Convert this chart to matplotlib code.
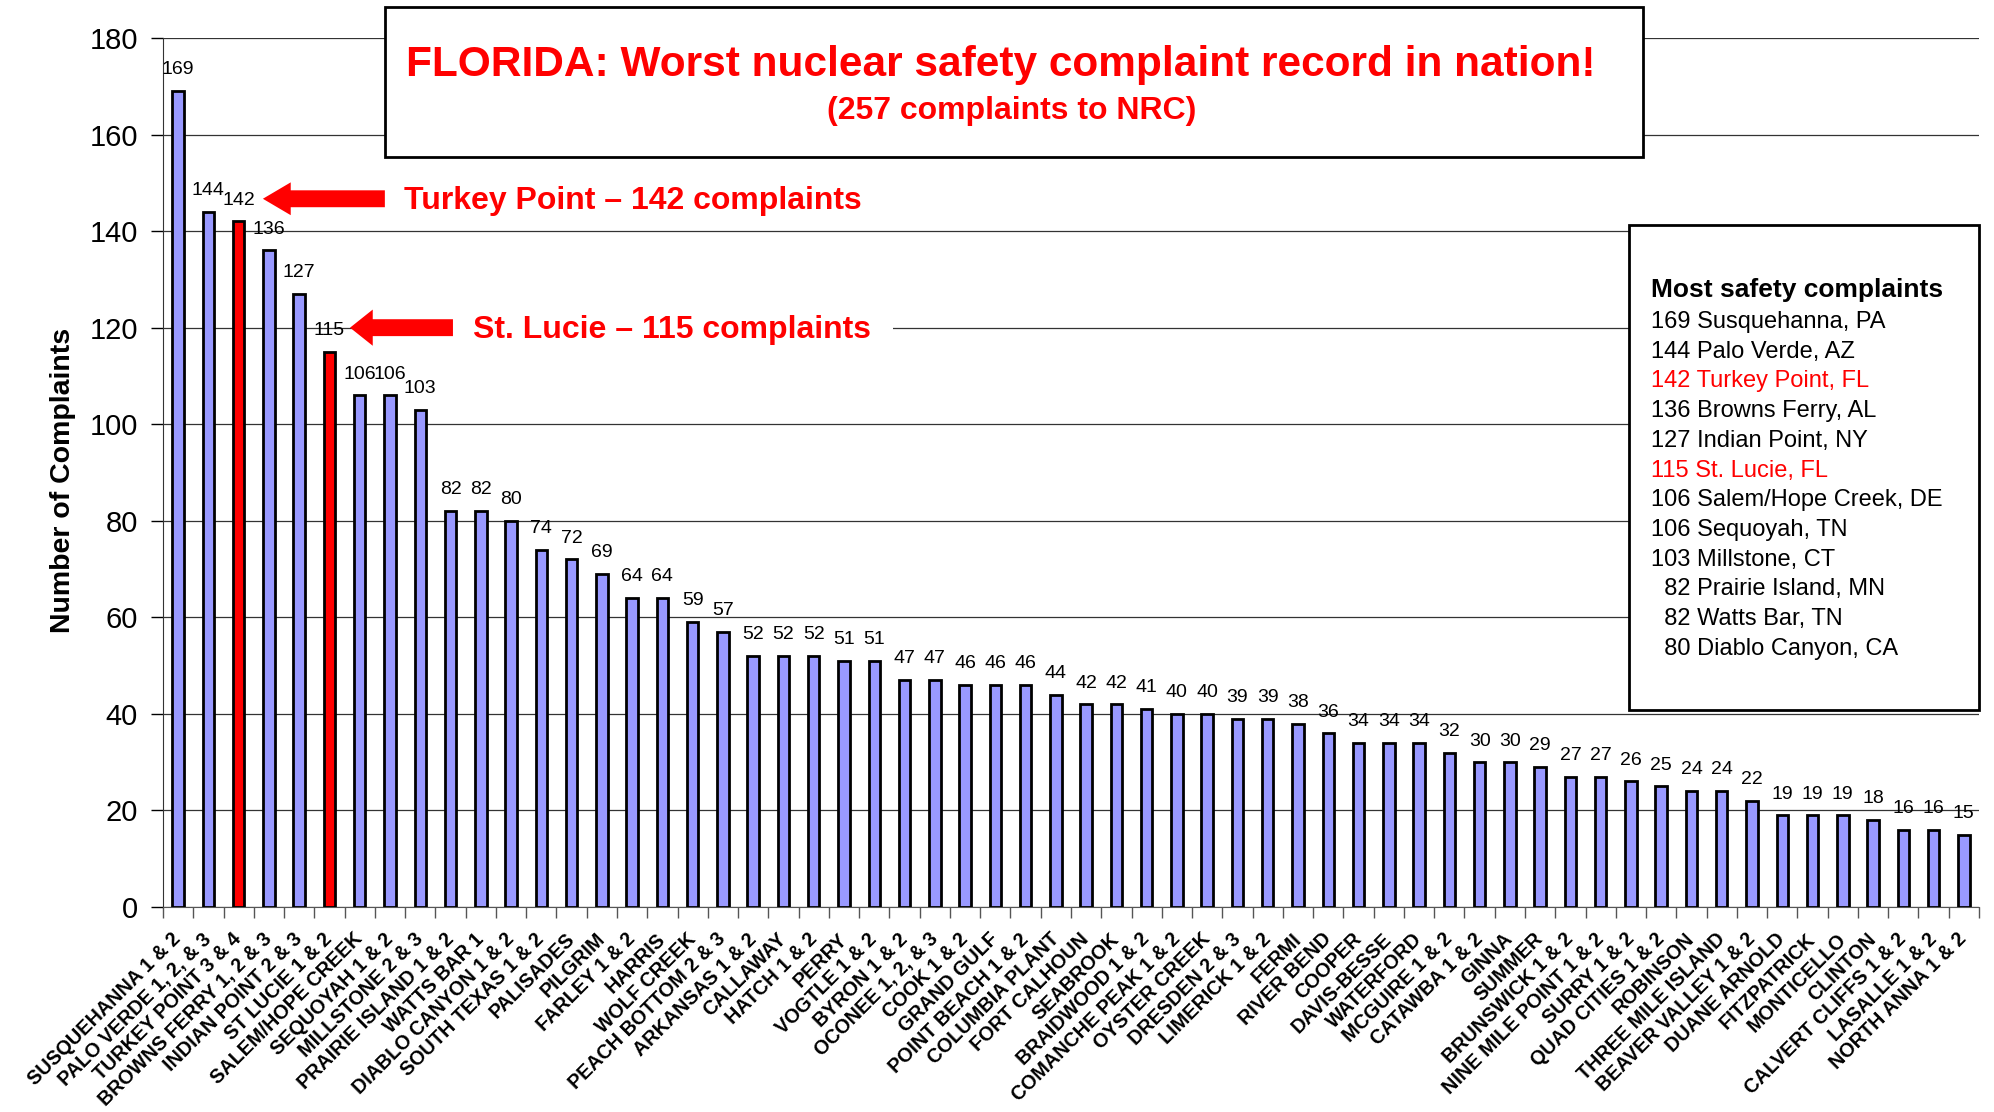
import matplotlib
matplotlib.use("Agg")
import matplotlib.pyplot as plt
import matplotlib.patches as mpatches
import numpy as np

plt.rcParams['font.family'] = ['Liberation Sans', 'DejaVu Sans']

# plant names and complaint counts, in chart order
plants = [
    "SUSQUEHANNA 1 & 2", "PALO VERDE 1, 2, & 3", "TURKEY POINT 3 & 4",
    "BROWNS FERRY 1, 2 & 3", "INDIAN POINT 2 & 3", "ST LUCIE 1 & 2",
    "SALEM/HOPE CREEK", "SEQUOYAH 1 & 2", "MILLSTONE 2 & 3",
    "PRAIRIE ISLAND 1 & 2", "WATTS BAR 1", "DIABLO CANYON 1 & 2",
    "SOUTH TEXAS 1 & 2", "PALISADES", "PILGRIM", "FARLEY 1 & 2", "HARRIS",
    "WOLF CREEK", "PEACH BOTTOM 2 & 3", "ARKANSAS 1 & 2", "CALLAWAY",
    "HATCH 1 & 2", "PERRY", "VOGTLE 1 & 2", "BYRON 1 & 2", "OCONEE 1, 2, & 3",
    "COOK 1 & 2", "GRAND GULF", "POINT BEACH 1 & 2", "COLUMBIA PLANT",
    "FORT CALHOUN", "SEABROOK", "BRAIDWOOD 1 & 2", "COMANCHE PEAK 1 & 2",
    "OYSTER CREEK", "DRESDEN 2 & 3", "LIMERICK 1 & 2", "FERMI", "RIVER BEND",
    "COOPER", "DAVIS-BESSE", "WATERFORD", "MCGUIRE 1 & 2", "CATAWBA 1 & 2",
    "GINNA", "SUMMER", "BRUNSWICK 1 & 2", "NINE MILE POINT 1 & 2",
    "SURRY 1 & 2", "QUAD CITIES 1 & 2", "ROBINSON", "THREE MILE ISLAND",
    "BEAVER VALLEY 1 & 2", "DUANE ARNOLD", "FITZPATRICK", "MONTICELLO",
    "CLINTON", "CALVERT CLIFFS 1 & 2", "LASALLE 1 & 2", "NORTH ANNA 1 & 2",
]
complaints = [
    169, 144, 142, 136, 127, 115, 106, 106, 103, 82,
    82, 80, 74, 72, 69, 64, 64, 59, 57, 52,
    52, 52, 51, 51, 47, 47, 46, 46, 46, 44,
    42, 42, 41, 40, 40, 39, 39, 38, 36, 34,
    34, 34, 32, 30, 30, 29, 27, 27, 26, 25,
    24, 24, 22, 19, 19, 19, 18, 16, 16, 15,
]
florida = ["TURKEY POINT 3 & 4", "ST LUCIE 1 & 2"]

top_list = [
    ("169 Susquehanna, PA", "black"),
    ("144 Palo Verde, AZ", "black"),
    ("142 Turkey Point, FL", "red"),
    ("136 Browns Ferry, AL", "black"),
    ("127 Indian Point, NY", "black"),
    ("115 St. Lucie, FL", "red"),
    ("106 Salem/Hope Creek, DE", "black"),
    ("106 Sequoyah, TN", "black"),
    ("103 Millstone, CT", "black"),
    ("  82 Prairie Island, MN", "black"),
    ("  82 Watts Bar, TN", "black"),
    ("  80 Diablo Canyon, CA", "black"),
]

W, H = 1994, 1112
fig = plt.figure(figsize=(W / 100, H / 100), dpi=100)
ax = fig.add_axes([163 / W, 1 - 907 / H, (1979 - 163) / W, (907 - 38) / H])

x = np.arange(len(plants))
colors = ['#FF0000' if p in florida else '#9999FF' for p in plants]
ax.bar(x, complaints, width=0.38, color=colors, edgecolor='black',
       linewidth=2, zorder=3)

for i, v in enumerate(complaints):
    ax.annotate(str(v), (i, v), xytext=(0, 12), textcoords='offset points',
                ha='center', va='baseline', fontsize=14, zorder=4)

ax.set_xlim(-0.5, len(plants) - 0.5)
ax.set_ylim(0, 180)
ax.set_yticks(np.arange(0, 181, 20))
ax.yaxis.grid(True, color='#333333', linewidth=0.9)
ax.set_axisbelow(True)
ax.tick_params(axis='y', labelsize=21, length=9, width=1, pad=9)

ax.set_xticks(x)
ax.set_xticks(np.arange(-0.5, len(plants), 1), minor=True)
ax.set_xticklabels(plants, rotation=45, ha='right', va='center',
                   rotation_mode='anchor', fontsize=14.2, fontweight='bold')
ax.tick_params(axis='x', which='major', length=0, pad=21)
ax.tick_params(axis='x', which='minor', length=8, width=1, color='#555555')

for s in ['top', 'right']:
    ax.spines[s].set_visible(False)
ax.spines['left'].set_color('#333333')
ax.spines['bottom'].set_color('#555555')

fig.text(63 / W, 1 - 480 / H, "Number of Complaints", rotation=90,
         ha='center', va='center', fontsize=20.5, fontweight='bold')

# title box
fig.add_artist(mpatches.Rectangle((385 / W, 1 - 157 / H), (1643 - 385) / W,
                                  (157 - 7) / H, transform=fig.transFigure,
                                  facecolor='white', edgecolor='black',
                                  linewidth=2, zorder=5))
fig.text(1001 / W, 1 - 65 / H,
         "FLORIDA: Worst nuclear safety complaint record in nation!",
         ha='center', va='center', color='#FF0000', fontsize=30.5,
         fontweight='bold', zorder=6)
fig.text(1012 / W, 1 - 111 / H, "(257 complaints to NRC)",
         ha='center', va='center', color='#FF0000', fontsize=23,
         fontweight='bold', zorder=6)

# arrows pointing to Florida plants
ax.add_patch(mpatches.FancyArrow(6.83, 146.7, -4.03, 0, width=3.5,
                                 head_width=6.8, head_length=0.92,
                                 length_includes_head=True, color='#FF0000',
                                 linewidth=0, zorder=5))
ax.text(7.45, 146.3, "Turkey Point \u2013 142 complaints", color='#FF0000',
        fontsize=23, fontweight='bold', va='center', ha='left', zorder=5)

ax.add_patch(mpatches.FancyArrow(9.08, 120.0, -3.4, 0, width=3.5,
                                 head_width=7.5, head_length=0.75,
                                 length_includes_head=True, color='#FF0000',
                                 linewidth=0, zorder=6))
ax.text(9.73, 119.5, "St. Lucie \u2013 115 complaints", color='#FF0000',
        fontsize=23, fontweight='bold', va='center', ha='left', zorder=5,
        bbox=dict(facecolor='white', edgecolor='none', pad=16))

# top complaints box
fig.add_artist(mpatches.Rectangle((1629 / W, 1 - 710 / H), (1979 - 1629) / W,
                                  (710 - 225) / H, transform=fig.transFigure,
                                  facecolor='white', edgecolor='black',
                                  linewidth=2, zorder=5))
fig.text(1651 / W, 1 - 297 / H, "Most safety complaints", ha='left',
         va='baseline', fontsize=19, fontweight='bold', zorder=6)
for k, (line, c) in enumerate(top_list):
    fig.text(1651 / W, 1 - (328 + 29.7 * k) / H, line, ha='left',
             va='baseline', fontsize=17, color=c, zorder=6)

fig.savefig("out.png", dpi=100)
